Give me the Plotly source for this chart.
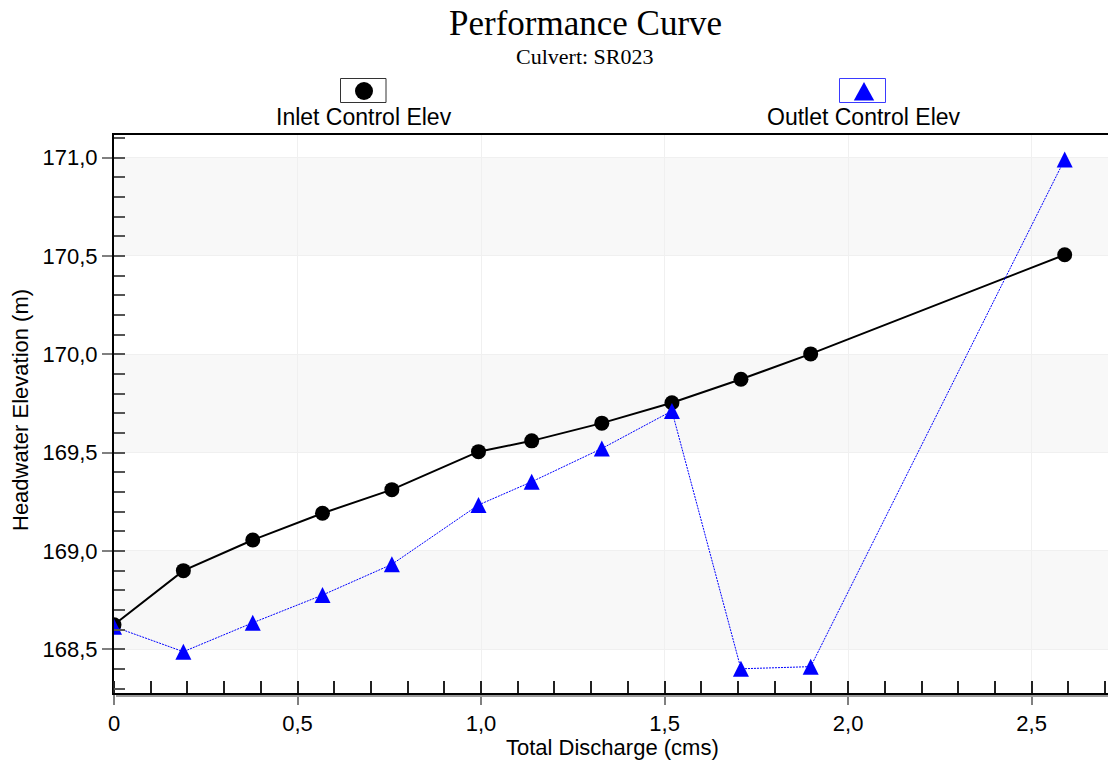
import plotly.graph_objects as go

# Culvert SR023 performance data
discharge = [0, 0.189, 0.378, 0.568, 0.757, 0.993, 1.138, 1.329, 1.52, 1.708, 1.898, 2.59]
inlet_elev = [168.625, 168.900, 169.056, 169.192, 169.312, 169.505, 169.560, 169.650,
              169.754, 169.873, 170.002, 170.506]
outlet_elev = [168.615, 168.488, 168.635, 168.776, 168.932, 169.234, 169.352, 169.521,
               169.712, 168.401, 168.412, 170.991]

x_tick_vals = [0, 0.5, 1.0, 1.5, 2.0, 2.5]
x_tick_text = ["0", "0,5", "1,0", "1,5", "2,0", "2,5"]
y_tick_vals = [168.5, 169.0, 169.5, 170.0, 170.5, 171.0]
y_tick_text = ["168,5", "169,0", "169,5", "170,0", "170,5", "171,0"]

series_names = ["Inlet Control Elev", "Outlet Control Elev"]
x_title = "Total Discharge (cms)"
y_title = "Headwater Elevation (m)"

# page / plot-area geometry in pixels
W, H = 1108, 762
M_L, M_R, M_T, M_B = 114, 0, 135, 69
PW = W - M_L - M_R
PH = H - M_T - M_B


def px(xp):
    return (xp - M_L) / PW


def py(yp):
    return (H - M_B - yp) / PH


SANS = "Liberation Sans, Arial, sans-serif"
SERIF = "Liberation Serif, Times New Roman, serif"
BLUE = "#0000ff"

fig = go.Figure()

fig.add_trace(go.Scatter(
    x=discharge, y=inlet_elev, name=series_names[0],
    mode="lines+markers",
    line=dict(color="black", width=2),
    marker=dict(symbol="circle", size=15, color="black", line=dict(width=0)),
))

# upward triangle centred on the point: a flipped arrow pushed back by half its size
fig.add_trace(go.Scatter(
    x=discharge, y=outlet_elev, name=series_names[1],
    mode="lines+markers",
    line=dict(color=BLUE, width=1, dash="2px,1px", backoff=0),
    marker=dict(symbol="arrow-down", angle=180, standoff=8, size=16,
                color=BLUE, line=dict(width=0)),
))

shapes = []
# alternating shaded bands
for lo, hi in [(168.5, 169.0), (169.5, 170.0), (170.5, 171.0)]:
    shapes.append(dict(type="rect", xref="paper", yref="y", x0=0, x1=1, y0=lo, y1=hi,
                       fillcolor="#f8f8f8", line=dict(width=0), layer="below"))

# grey shadow under the bottom axis
shapes.append(dict(type="line", xref="paper", yref="paper",
                   x0=px(116), x1=px(1108), y0=py(696), y1=py(696),
                   line=dict(color="#9a9a9a", width=2)))

# legend boxes and symbols
shapes.append(dict(type="rect", xref="paper", yref="paper",
                   x0=px(340.5), x1=px(386), y0=py(78.5), y1=py(102.5),
                   line=dict(color="#333333", width=1), fillcolor="white"))
shapes.append(dict(type="circle", xref="paper", yref="paper",
                   x0=px(355), x1=px(373), y0=py(82), y1=py(100),
                   line=dict(width=0), fillcolor="black"))
shapes.append(dict(type="rect", xref="paper", yref="paper",
                   x0=px(839.5), x1=px(885.5), y0=py(78.5), y1=py(102.5),
                   line=dict(color="#3a3aff", width=1), fillcolor="white"))
tri = "M {:.5f} {:.5f} L {:.5f} {:.5f} L {:.5f} {:.5f} Z".format(
    px(864), py(82), px(853.8), py(100.5), px(874.2), py(100.5))
shapes.append(dict(type="path", xref="paper", yref="paper", path=tri,
                   line=dict(width=0), fillcolor=BLUE))


def label(text, xp, yp, family, size, angle=0):
    return dict(text=text, x=px(xp), y=py(yp), xref="paper", yref="paper",
                showarrow=False, xanchor="center", yanchor="middle",
                textangle=angle, font=dict(family=family, size=size, color="black"))


annotations = [
    label("Performance Curve", 585, 24, SERIF, 35),
    label("Culvert: SR023", 585, 57, SERIF, 22),
    label(series_names[0], 364, 117, SANS, 23),
    label(series_names[1], 864, 117, SANS, 23),
    label(x_title, 612, 747, SANS, 22),
    label(y_title, 20, 410, SANS, 22, angle=-90),
]

fig.update_layout(
    width=W, height=H,
    margin=dict(l=M_L, r=M_R, t=M_T, b=M_B, pad=0),
    paper_bgcolor="white", plot_bgcolor="white",
    showlegend=False,
    shapes=shapes, annotations=annotations,
    font=dict(family=SANS, size=22, color="black"),
)

fig.update_xaxes(
    range=[0, 2.708],
    tickmode="array", tickvals=x_tick_vals, ticktext=x_tick_text,
    ticks="outside", ticklen=10, tickwidth=1.5, tickcolor="#808080",
    tickfont=dict(family=SANS, size=22, color="black"),
    showline=True, linecolor="black", linewidth=2, mirror=True,
    showgrid=True, gridcolor="#f0f0f0", gridwidth=1, zeroline=False,
    minor=dict(tickmode="linear", tick0=0, dtick=0.1, ticks="inside", ticklen=12,
               tickwidth=1.5, tickcolor="#222222", showgrid=False),
)

fig.update_yaxes(
    range=[168.278, 171.115],
    tickmode="array", tickvals=y_tick_vals, ticktext=y_tick_text,
    ticks="outside", ticklen=10, tickwidth=1.5, tickcolor="#808080",
    tickfont=dict(family=SANS, size=22, color="black"),
    showline=True, linecolor="black", linewidth=2,
    showgrid=True, gridcolor="#f0f0f0", gridwidth=1, zeroline=False,
    minor=dict(tickmode="linear", tick0=0, dtick=0.1, ticks="inside", ticklen=11,
               tickwidth=1.5, tickcolor="#555555", showgrid=False),
)

fig.write_html("out.html")
